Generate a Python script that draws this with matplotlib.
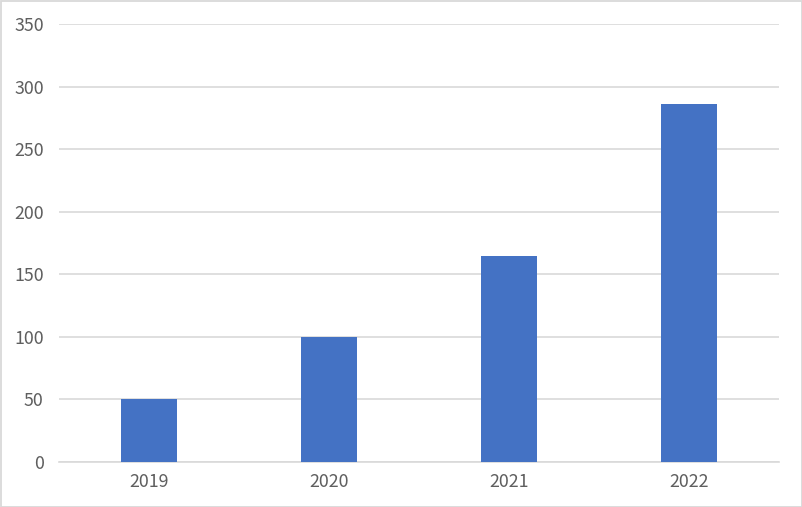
import matplotlib
matplotlib.use("Agg")
import matplotlib.pyplot as plt
from matplotlib.patches import Rectangle

plt.rcParams['font.family'] = ['Noto Sans CJK SC', 'DejaVu Sans']

categories = ["2019", "2020", "2021", "2022"]
values = [50, 100, 165, 286]
yticks = [0, 50, 100, 150, 200, 250, 300, 350]

W, H = 803, 507
fig = plt.figure(figsize=(W / 100, H / 100), dpi=100)
fig.patch.set_facecolor("white")
fig.patches.append(Rectangle((0.5 / W, 0.5 / H), 1 - 1.5 / W, 1 - 1.5 / H,
                             transform=fig.transFigure, fill=False,
                             edgecolor="#d9d9d9", linewidth=1.3))

ax = fig.add_axes([59 / W, 45 / H, 720 / W, 438 / H])
x = range(len(categories))
ax.bar(x, values, width=0.31, color="#4472c4", zorder=3)
ax.set_xlim(-0.5, len(categories) - 0.5)
ax.set_ylim(0, 350)
ax.set_yticks(yticks)
ax.set_xticks(list(x))
ax.set_xticklabels(categories)
ax.grid(axis="y", color="#d9d9d9", linewidth=1.2, zorder=0)
ax.set_axisbelow(True)
for s in ["top", "right", "left"]:
    ax.spines[s].set_visible(False)
ax.spines["bottom"].set_color("#d9d9d9")
ax.spines["bottom"].set_linewidth(1.2)
ax.tick_params(axis="both", length=0, colors="#5f5f5f", labelsize=12.8)
ax.tick_params(axis="y", pad=11)
ax.tick_params(axis="x", pad=8)

fig.savefig("out.png", dpi=100)
